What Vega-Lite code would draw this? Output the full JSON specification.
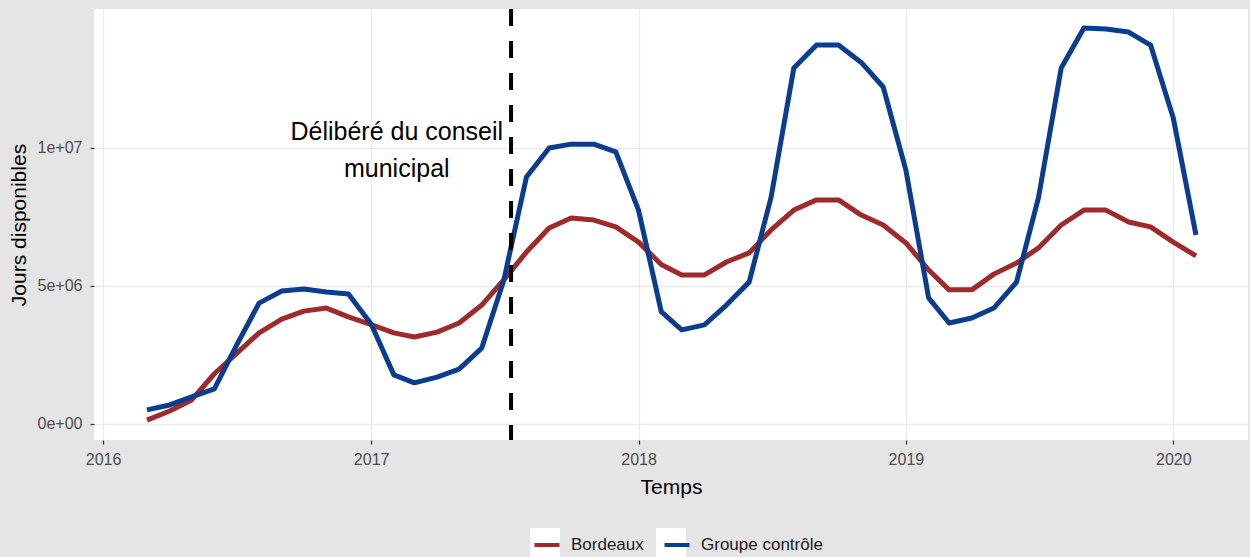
{
  "$schema": "https://vega.github.io/schema/vega-lite/v6.json",
  "width": 1154,
  "height": 431,
  "autosize": {"type": "none"},
  "padding": {"left": 94, "top": 9, "right": 2, "bottom": 117},
  "background": "#e5e5e5",
  "config": {
    "view": {"fill": "white", "stroke": null},
    "font": "Liberation Sans",
    "axis": {
      "domain": false,
      "gridColor": "#ebebeb",
      "gridWidth": 1.3,
      "tickColor": "#333333",
      "tickSize": 4,
      "tickWidth": 1.2,
      "labelColor": "#4d4d4d",
      "labelFont": "Liberation Sans",
      "labelFontSize": 16,
      "titleFont": "Liberation Sans",
      "titleFontSize": 21,
      "titleFontWeight": "normal",
      "titleColor": "#000000"
    },
    "legend": {"padding": 0}
  },
  "datasets": {
    "series": [
      {"date": "2016-03-01T00:00:00", "serie": "Bordeaux", "value": 140000},
      {"date": "2016-04-01T00:00:00", "serie": "Bordeaux", "value": 470000},
      {"date": "2016-05-01T00:00:00", "serie": "Bordeaux", "value": 870000},
      {"date": "2016-06-01T00:00:00", "serie": "Bordeaux", "value": 1820000},
      {"date": "2016-07-01T00:00:00", "serie": "Bordeaux", "value": 2550000},
      {"date": "2016-08-01T00:00:00", "serie": "Bordeaux", "value": 3300000},
      {"date": "2016-09-01T00:00:00", "serie": "Bordeaux", "value": 3800000},
      {"date": "2016-10-01T00:00:00", "serie": "Bordeaux", "value": 4090000},
      {"date": "2016-11-01T00:00:00", "serie": "Bordeaux", "value": 4200000},
      {"date": "2016-12-01T00:00:00", "serie": "Bordeaux", "value": 3880000},
      {"date": "2017-01-01T00:00:00", "serie": "Bordeaux", "value": 3600000},
      {"date": "2017-02-01T00:00:00", "serie": "Bordeaux", "value": 3300000},
      {"date": "2017-03-01T00:00:00", "serie": "Bordeaux", "value": 3150000},
      {"date": "2017-04-01T00:00:00", "serie": "Bordeaux", "value": 3330000},
      {"date": "2017-05-01T00:00:00", "serie": "Bordeaux", "value": 3660000},
      {"date": "2017-06-01T00:00:00", "serie": "Bordeaux", "value": 4310000},
      {"date": "2017-07-01T00:00:00", "serie": "Bordeaux", "value": 5220000},
      {"date": "2017-08-01T00:00:00", "serie": "Bordeaux", "value": 6230000},
      {"date": "2017-09-01T00:00:00", "serie": "Bordeaux", "value": 7100000},
      {"date": "2017-10-01T00:00:00", "serie": "Bordeaux", "value": 7460000},
      {"date": "2017-11-01T00:00:00", "serie": "Bordeaux", "value": 7390000},
      {"date": "2017-12-01T00:00:00", "serie": "Bordeaux", "value": 7140000},
      {"date": "2018-01-01T00:00:00", "serie": "Bordeaux", "value": 6590000},
      {"date": "2018-02-01T00:00:00", "serie": "Bordeaux", "value": 5780000},
      {"date": "2018-03-01T00:00:00", "serie": "Bordeaux", "value": 5400000},
      {"date": "2018-04-01T00:00:00", "serie": "Bordeaux", "value": 5400000},
      {"date": "2018-05-01T00:00:00", "serie": "Bordeaux", "value": 5870000},
      {"date": "2018-06-01T00:00:00", "serie": "Bordeaux", "value": 6200000},
      {"date": "2018-07-01T00:00:00", "serie": "Bordeaux", "value": 7030000},
      {"date": "2018-08-01T00:00:00", "serie": "Bordeaux", "value": 7750000},
      {"date": "2018-09-01T00:00:00", "serie": "Bordeaux", "value": 8120000},
      {"date": "2018-10-01T00:00:00", "serie": "Bordeaux", "value": 8120000},
      {"date": "2018-11-01T00:00:00", "serie": "Bordeaux", "value": 7570000},
      {"date": "2018-12-01T00:00:00", "serie": "Bordeaux", "value": 7210000},
      {"date": "2019-01-01T00:00:00", "serie": "Bordeaux", "value": 6560000},
      {"date": "2019-02-01T00:00:00", "serie": "Bordeaux", "value": 5580000},
      {"date": "2019-03-01T00:00:00", "serie": "Bordeaux", "value": 4860000},
      {"date": "2019-04-01T00:00:00", "serie": "Bordeaux", "value": 4860000},
      {"date": "2019-05-01T00:00:00", "serie": "Bordeaux", "value": 5430000},
      {"date": "2019-06-01T00:00:00", "serie": "Bordeaux", "value": 5830000},
      {"date": "2019-07-01T00:00:00", "serie": "Bordeaux", "value": 6380000},
      {"date": "2019-08-01T00:00:00", "serie": "Bordeaux", "value": 7210000},
      {"date": "2019-09-01T00:00:00", "serie": "Bordeaux", "value": 7750000},
      {"date": "2019-10-01T00:00:00", "serie": "Bordeaux", "value": 7750000},
      {"date": "2019-11-01T00:00:00", "serie": "Bordeaux", "value": 7320000},
      {"date": "2019-12-01T00:00:00", "serie": "Bordeaux", "value": 7140000},
      {"date": "2020-01-01T00:00:00", "serie": "Bordeaux", "value": 6590000},
      {"date": "2020-02-01T00:00:00", "serie": "Bordeaux", "value": 6090000},
      {"date": "2016-03-01T00:00:00", "serie": "Groupe contrôle", "value": 510000},
      {"date": "2016-04-01T00:00:00", "serie": "Groupe contrôle", "value": 690000},
      {"date": "2016-05-01T00:00:00", "serie": "Groupe contrôle", "value": 980000},
      {"date": "2016-06-01T00:00:00", "serie": "Groupe contrôle", "value": 1270000},
      {"date": "2016-07-01T00:00:00", "serie": "Groupe contrôle", "value": 2840000},
      {"date": "2016-08-01T00:00:00", "serie": "Groupe contrôle", "value": 4380000},
      {"date": "2016-09-01T00:00:00", "serie": "Groupe contrôle", "value": 4820000},
      {"date": "2016-10-01T00:00:00", "serie": "Groupe contrôle", "value": 4890000},
      {"date": "2016-11-01T00:00:00", "serie": "Groupe contrôle", "value": 4780000},
      {"date": "2016-12-01T00:00:00", "serie": "Groupe contrôle", "value": 4710000},
      {"date": "2017-01-01T00:00:00", "serie": "Groupe contrôle", "value": 3620000},
      {"date": "2017-02-01T00:00:00", "serie": "Groupe contrôle", "value": 1780000},
      {"date": "2017-03-01T00:00:00", "serie": "Groupe contrôle", "value": 1490000},
      {"date": "2017-04-01T00:00:00", "serie": "Groupe contrôle", "value": 1700000},
      {"date": "2017-05-01T00:00:00", "serie": "Groupe contrôle", "value": 1990000},
      {"date": "2017-06-01T00:00:00", "serie": "Groupe contrôle", "value": 2750000},
      {"date": "2017-07-01T00:00:00", "serie": "Groupe contrôle", "value": 5200000},
      {"date": "2017-08-01T00:00:00", "serie": "Groupe contrôle", "value": 8950000},
      {"date": "2017-09-01T00:00:00", "serie": "Groupe contrôle", "value": 10000000},
      {"date": "2017-10-01T00:00:00", "serie": "Groupe contrôle", "value": 10140000},
      {"date": "2017-11-01T00:00:00", "serie": "Groupe contrôle", "value": 10140000},
      {"date": "2017-12-01T00:00:00", "serie": "Groupe contrôle", "value": 9860000},
      {"date": "2018-01-01T00:00:00", "serie": "Groupe contrôle", "value": 7750000},
      {"date": "2018-02-01T00:00:00", "serie": "Groupe contrôle", "value": 4070000},
      {"date": "2018-03-01T00:00:00", "serie": "Groupe contrôle", "value": 3410000},
      {"date": "2018-04-01T00:00:00", "serie": "Groupe contrôle", "value": 3590000},
      {"date": "2018-05-01T00:00:00", "serie": "Groupe contrôle", "value": 4310000},
      {"date": "2018-06-01T00:00:00", "serie": "Groupe contrôle", "value": 5140000},
      {"date": "2018-07-01T00:00:00", "serie": "Groupe contrôle", "value": 8220000},
      {"date": "2018-08-01T00:00:00", "serie": "Groupe contrôle", "value": 12900000},
      {"date": "2018-09-01T00:00:00", "serie": "Groupe contrôle", "value": 13730000},
      {"date": "2018-10-01T00:00:00", "serie": "Groupe contrôle", "value": 13730000},
      {"date": "2018-11-01T00:00:00", "serie": "Groupe contrôle", "value": 13100000},
      {"date": "2018-12-01T00:00:00", "serie": "Groupe contrôle", "value": 12210000},
      {"date": "2019-01-01T00:00:00", "serie": "Groupe contrôle", "value": 9200000},
      {"date": "2019-02-01T00:00:00", "serie": "Groupe contrôle", "value": 4570000},
      {"date": "2019-03-01T00:00:00", "serie": "Groupe contrôle", "value": 3660000},
      {"date": "2019-04-01T00:00:00", "serie": "Groupe contrôle", "value": 3840000},
      {"date": "2019-05-01T00:00:00", "serie": "Groupe contrôle", "value": 4200000},
      {"date": "2019-06-01T00:00:00", "serie": "Groupe contrôle", "value": 5140000},
      {"date": "2019-07-01T00:00:00", "serie": "Groupe contrôle", "value": 8200000},
      {"date": "2019-08-01T00:00:00", "serie": "Groupe contrôle", "value": 12900000},
      {"date": "2019-09-01T00:00:00", "serie": "Groupe contrôle", "value": 14350000},
      {"date": "2019-10-01T00:00:00", "serie": "Groupe contrôle", "value": 14310000},
      {"date": "2019-11-01T00:00:00", "serie": "Groupe contrôle", "value": 14200000},
      {"date": "2019-12-01T00:00:00", "serie": "Groupe contrôle", "value": 13730000},
      {"date": "2020-01-01T00:00:00", "serie": "Groupe contrôle", "value": 11090000},
      {"date": "2020-02-01T00:00:00", "serie": "Groupe contrôle", "value": 6850000}
    ],
    "event": [
      {"date": "2017-07-11T00:00:00"}
    ],
    "note": [
      {"date": "2017-02-05T00:00:00", "value": 10580000, "label": "Délibéré du conseil\nmunicipal"}
    ],
    "keys": [
      {"k": "a"}
    ]
  },
  "layer": [
    {
      "data": {"name": "keys"},
      "transform": [{"filter": "false"}],
      "mark": {"type": "point", "shape": "square", "filled": true},
      "encoding": {
        "fill": {
          "field": "k",
          "type": "nominal",
          "scale": {"domain": ["a", "b"], "range": ["#ffffff", "#ffffff"]},
          "legend": {
            "title": null,
            "orient": "none",
            "direction": "horizontal",
            "legendX": 436,
            "legendY": 519,
            "symbolType": "square",
            "symbolSize": 900,
            "symbolStrokeWidth": 0,
            "symbolOpacity": 1,
            "labelExpr": "''",
            "labelFontSize": 17,
            "labelOffset": 0,
            "columnPadding": 96,
            "zindex": 0
          }
        }
      }
    },
    {
      "data": {"name": "series"},
      "mark": {"type": "line", "strokeWidth": 5, "strokeJoin": "round"},
      "encoding": {
        "x": {
          "field": "date",
          "type": "temporal",
          "title": "Temps",
          "scale": {"domain": [{"year": 2015, "month": 12, "date": 19, "hours": 16}, {"year": 2020, "month": 4, "date": 12}]},
          "axis": {
            "format": "%Y",
            "tickCount": {"interval": "year", "step": 1},
            "labelPadding": 7,
            "titlePadding": 9
          }
        },
        "y": {
          "field": "value",
          "type": "quantitative",
          "title": "Jours disponibles",
          "scale": {"domain": [-580000, 15036000], "nice": false, "zero": false},
          "axis": {
            "values": [0, 5000000, 10000000],
            "labelExpr": "datum.value == 0 ? '0e+00' : datum.value == 5000000 ? '5e+06' : '1e+07'",
            "labelPadding": 8,
            "titlePadding": 8
          }
        },
        "color": {
          "field": "serie",
          "type": "nominal",
          "scale": {"domain": ["Bordeaux", "Groupe contrôle"], "range": ["#9e2a2b", "#0b3d8f"]},
          "legend": {
            "title": null,
            "orient": "none",
            "direction": "horizontal",
            "legendX": 436,
            "legendY": 519,
            "symbolType": "M-0.833,0H0.833",
            "symbolSize": 900,
            "symbolStrokeWidth": 4,
            "labelFont": "Liberation Sans",
            "labelFontSize": 17,
            "labelColor": "#1a1a1a",
            "labelOffset": 7,
            "columnPadding": 12,
            "zindex": 1
          }
        }
      }
    },
    {
      "data": {"name": "event"},
      "mark": {"type": "rule", "strokeWidth": 4, "strokeDash": [17, 15], "color": "#000000"},
      "encoding": {
        "x": {"field": "date", "type": "temporal"}
      }
    },
    {
      "data": {"name": "note"},
      "mark": {"type": "text", "font": "Liberation Sans", "fontSize": 25, "lineBreak": "\n", "lineHeight": 37, "align": "center", "baseline": "middle", "color": "#000000"},
      "encoding": {
        "x": {"field": "date", "type": "temporal"},
        "y": {"field": "value", "type": "quantitative"},
        "text": {"field": "label"}
      }
    }
  ]
}
